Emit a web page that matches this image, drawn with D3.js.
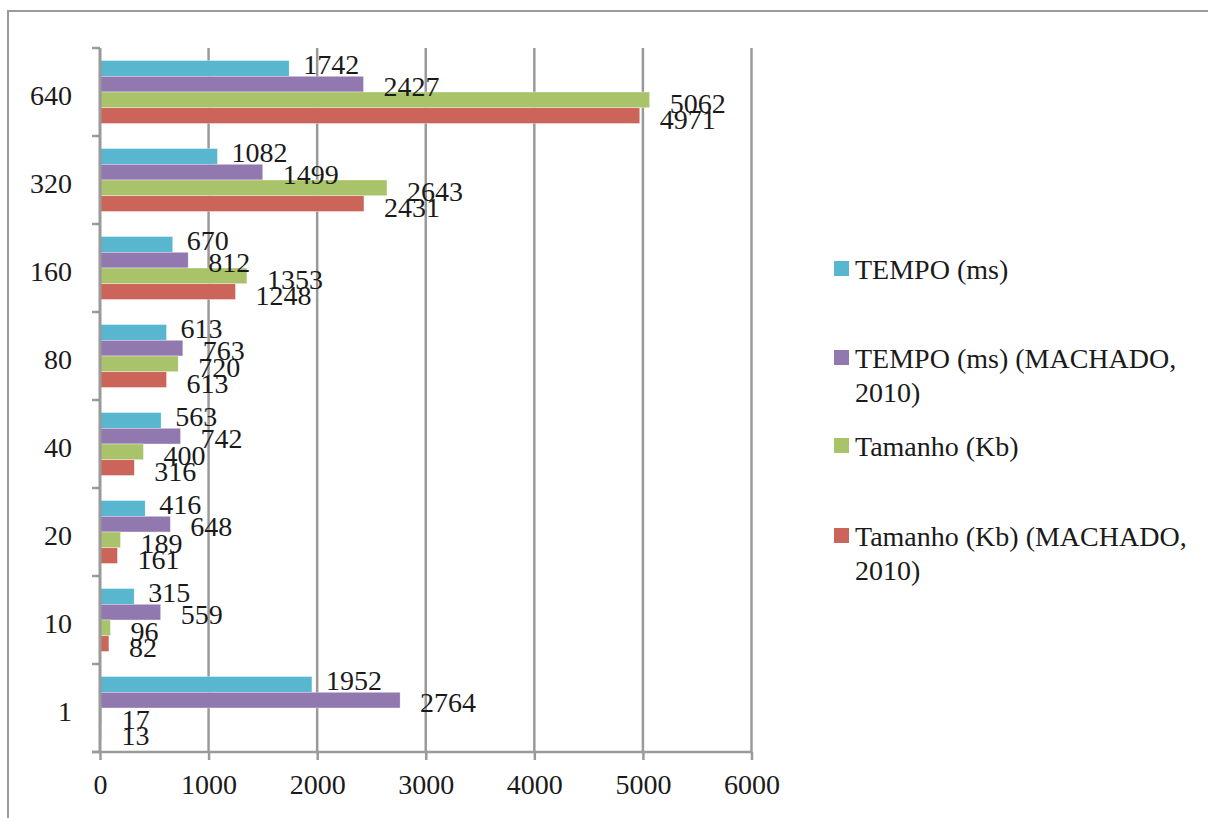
<!DOCTYPE html>
<html>
<head>
<meta charset="utf-8">
<script src="https://cdn.jsdelivr.net/npm/d3@7"></script>
<style>
  html, body { margin: 0; padding: 0; background: #fff; }
  svg text { font-family: "Liberation Serif", "DejaVu Serif", serif; fill: #1a1a1a; }
</style>
</head>
<body>
<svg id="chart" width="1208" height="818"></svg>
<script>
// Categories (top to bottom as drawn)
const categories = ["640", "320", "160", "80", "40", "20", "10", "1"];

// Series, in the order they stack inside each group
const seriesNames = [
  "TEMPO (ms)",
  "TEMPO (ms) (MACHADO, 2010)",
  "Tamanho (Kb)",
  "Tamanho (Kb) (MACHADO, 2010)"
];
const tempo        = [1742, 1082, 670, 613, 563, 416, 315, 1952];
const tempoMachado = [2427, 1499, 812, 763, 742, 648, 559, 2764];
const tamanho      = [5062, 2643, 1353, 720, 400, 189, 96, 17];
const tamanhoMach  = [4971, 2431, 1248, 613, 316, 161, 82, 13];
const seriesValues = [tempo, tempoMachado, tamanho, tamanhoMach];

const xTicks = [0, 1000, 2000, 3000, 4000, 5000, 6000];

const colors = ["#58b7cf", "#9179b0", "#a9c36a", "#cc6559"];
const legendLines = [
  ["TEMPO (ms)"],
  ["TEMPO (ms) (MACHADO,", "2010)"],
  ["Tamanho (Kb)"],
  ["Tamanho (Kb) (MACHADO,", "2010)"]
];
// label nudges per series (overlap handling)
const labelDx = [14, 20, 20, 20];
const labelDy = [-4, 2, 3, 4];

const svg = d3.select("#chart");
const gray = "#9a9a9a";
const fontSize = 28;

// outer frame
svg.append("rect")
  .attr("x", 8).attr("y", 11)
  .attr("width", 1400).attr("height", 1000)
  .attr("fill", "#fff").attr("stroke", gray).attr("stroke-width", 2);

const plot = { left: 100, right: 751.5, top: 48, bottom: 752 };

const x = d3.scaleLinear().domain([0, 6000]).range([plot.left, plot.right]);
const y = d3.scaleBand().domain(categories).range([plot.top, plot.bottom]).padding(0);
const inner = d3.scaleBand().domain(seriesNames)
  .range([12.5, y.bandwidth() - 12.5]).padding(0);

// vertical gridlines
svg.append("g").selectAll("line")
  .data(xTicks.filter(d => d > 0))
  .join("line")
  .attr("x1", d => x(d)).attr("x2", d => x(d))
  .attr("y1", plot.top).attr("y2", plot.bottom)
  .attr("stroke", gray).attr("stroke-width", 2.5);

// bottom axis
const xAxis = svg.append("g")
  .attr("transform", `translate(0,${plot.bottom})`)
  .call(d3.axisBottom(x).tickValues(xTicks).tickSize(8).tickPadding(14).tickFormat(d3.format("d")));
xAxis.select(".domain").remove();
xAxis.selectAll(".tick line").attr("stroke", gray).attr("stroke-width", 2.5);
xAxis.selectAll(".tick text")
  .attr("font-size", fontSize).attr("fill", "#1a1a1a")
  .style("font-family", '"Liberation Serif", serif');
svg.append("line")
  .attr("x1", plot.left - 8).attr("x2", plot.right)
  .attr("y1", plot.bottom).attr("y2", plot.bottom)
  .attr("stroke", gray).attr("stroke-width", 2.5);

// left axis with labels at band centres
const yAxis = svg.append("g")
  .attr("transform", `translate(${plot.left},0)`)
  .call(d3.axisLeft(y).tickSize(0).tickPadding(28));
yAxis.select(".domain").remove();
yAxis.selectAll(".tick text")
  .attr("font-size", fontSize).attr("fill", "#1a1a1a").attr("dy", "0.45em")
  .style("font-family", '"Liberation Serif", serif');

// tick marks between categories
const bounds = categories.map(c => y(c)).concat([y(categories[categories.length - 1]) + y.bandwidth()]);
svg.append("g").selectAll("line")
  .data(bounds)
  .join("line")
  .attr("x1", plot.left - 8).attr("x2", plot.left)
  .attr("y1", d => d).attr("y2", d => d)
  .attr("stroke", gray).attr("stroke-width", 2.5);

// bars
const groups = svg.append("g").selectAll("g")
  .data(categories)
  .join("g")
  .attr("transform", c => `translate(0,${y(c)})`);

groups.each(function (c, ci) {
  const g = d3.select(this);
  seriesNames.forEach((s, si) => {
    const v = seriesValues[si][ci];
    g.append("rect")
      .attr("x", x(0))
      .attr("y", inner(s))
      .attr("width", x(v) - x(0))
      .attr("height", inner.bandwidth())
      .attr("fill", colors[si])
      .attr("stroke", "#fff").attr("stroke-width", 0.6).attr("stroke-opacity", 0.6);
  });
});

// y axis line drawn over bar starts
svg.append("line")
  .attr("x1", plot.left).attr("x2", plot.left)
  .attr("y1", plot.top).attr("y2", plot.bottom)
  .attr("stroke", gray).attr("stroke-width", 3);

// value labels
groups.each(function (c, ci) {
  const g = d3.select(this);
  seriesNames.forEach((s, si) => {
    const v = seriesValues[si][ci];
    g.append("text")
      .attr("x", x(v) + labelDx[si])
      .attr("y", inner(s) + inner.bandwidth() / 2 + labelDy[si])
      .attr("dy", "0.35em")
      .attr("font-size", fontSize)
      .text(v);
  });
});

// legend
const legendTops = [261, 350, 438, 528];
const legend = svg.append("g").selectAll("g")
  .data(seriesNames)
  .join("g")
  .attr("transform", (d, i) => `translate(834,${legendTops[i]})`);
legend.append("rect")
  .attr("width", 15).attr("height", 15)
  .attr("fill", (d, i) => colors[i]);
legend.each(function (d, i) {
  const t = d3.select(this).append("text")
    .attr("x", 21).attr("y", 18)
    .attr("font-size", fontSize);
  legendLines[i].forEach((line, li) => {
    t.append("tspan").attr("x", 21).attr("dy", li === 0 ? 0 : 34).text(line);
  });
});
</script>
</body>
</html>
